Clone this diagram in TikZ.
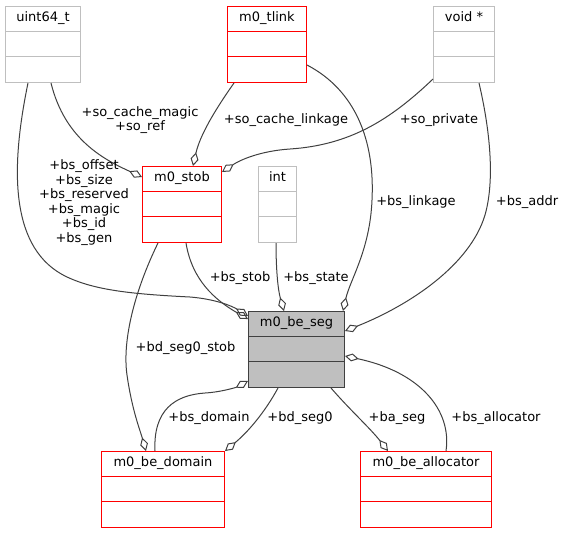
\documentclass[tikz,border=0pt]{standalone}
\usepackage{fontspec}
\setmainfont{DejaVu Sans}
\usetikzlibrary{arrows.meta,calc}
\definecolor{umlgray}{HTML}{BFBFBF}
\definecolor{umlred}{HTML}{FF0000}
\definecolor{edgegray}{HTML}{404040}

\begin{document}
\begin{tikzpicture}[x=1pt, y=-1pt,
    font=\fontsize{13}{14.6}\selectfont,
    box/.style={rectangle, anchor=north west, minimum height=76pt, inner sep=0pt, line width=1pt, fill=white},
    graybox/.style={box, draw=umlgray},
    redbox/.style={box, draw=umlred},
    segbox/.style={box, draw=edgegray, fill=umlgray},
    grayline/.style={draw=umlgray, line width=1pt},
    redline/.style={draw=umlred, line width=1pt},
    segline/.style={draw=edgegray, line width=1pt},
    classname/.style={inner sep=0pt, text height=9.5pt, text depth=3pt},
    lbl/.style={inner sep=0pt, align=center},
    assoc/.style={draw=edgegray, line width=1pt, -{Diamond[open, length=14pt, width=8pt]}}]

  \useasboundingbox (0,0) rectangle (564,533);

  % uint64_t
  \node[graybox, minimum width=75pt] (uint) at (5,6) {};
  \node[classname] (uint-t) at ($(uint.north)+(0,12.7)$) {uint64\_t};
  \draw[grayline] ($(uint.north west)+(0,25.3)$) -- ++(75,0);
  \draw[grayline] ($(uint.north west)+(0,50.7)$) -- ++(75,0);

  % m0_tlink
  \node[redbox, minimum width=79pt] (tlink) at (227,6) {};
  \node[classname] (tlink-t) at ($(tlink.north)+(0,12.7)$) {m0\_tlink};
  \draw[redline] ($(tlink.north west)+(0,25.3)$) -- ++(79,0);
  \draw[redline] ($(tlink.north west)+(0,50.7)$) -- ++(79,0);

  % void *
  \node[graybox, minimum width=61pt] (voidp) at (433,6) {};
  \node[classname] (voidp-t) at ($(voidp.north)+(0,12.7)$) {void *};
  \draw[grayline] ($(voidp.north west)+(0,25.3)$) -- ++(61,0);
  \draw[grayline] ($(voidp.north west)+(0,50.7)$) -- ++(61,0);

  % m0_stob
  \node[redbox, minimum width=79pt] (stob) at (142,166) {};
  \node[classname] (stob-t) at ($(stob.north)+(0,12.7)$) {m0\_stob};
  \draw[redline] ($(stob.north west)+(0,25.3)$) -- ++(79,0);
  \draw[redline] ($(stob.north west)+(0,50.7)$) -- ++(79,0);

  % int
  \node[graybox, minimum width=38pt] (int) at (258,166) {};
  \node[classname] (int-t) at ($(int.north)+(0,12.7)$) {int};
  \draw[grayline] ($(int.north west)+(0,25.3)$) -- ++(38,0);
  \draw[grayline] ($(int.north west)+(0,50.7)$) -- ++(38,0);

  % m0_be_seg
  \node[segbox, minimum width=96pt] (seg) at (248,311) {};
  \node[classname] (seg-t) at ($(seg.north)+(0,12.7)$) {m0\_be\_seg};
  \draw[segline] ($(seg.north west)+(0,25.3)$) -- ++(96,0);
  \draw[segline] ($(seg.north west)+(0,50.7)$) -- ++(96,0);

  % m0_be_domain
  \node[redbox, minimum width=123pt] (domain) at (101,451) {};
  \node[classname] (domain-t) at ($(domain.north)+(0,12.7)$) {m0\_be\_domain};
  \draw[redline] ($(domain.north west)+(0,25.3)$) -- ++(123,0);
  \draw[redline] ($(domain.north west)+(0,50.7)$) -- ++(123,0);

  % m0_be_allocator
  \node[redbox, minimum width=131pt] (alloc) at (360,451) {};
  \node[classname] (alloc-t) at ($(alloc.north)+(0,12.7)$) {m0\_be\_allocator};
  \draw[redline] ($(alloc.north west)+(0,25.3)$) -- ++(131,0);
  \draw[redline] ($(alloc.north west)+(0,50.7)$) -- ++(131,0);

  % links into m0_stob
  \draw[assoc] ($(uint.south west)+(46,0)$) .. controls (65,140) and (105,160) .. ($(stob.north west)+(0,11)$);
  \draw[assoc] ($(tlink.south west)+(7,0)$) .. controls (215,110) and (200,135) .. ($(stob.north west)+(51,0)$);
  \draw[assoc] ($(voidp.south west)+(0,-4)$) .. controls (390,120) and (350,145) .. (290,149)
    .. controls (260,151) and (240,160) .. ($(stob.north east)+(0,6)$);
  \node[lbl] (l-soref) at (140,120) {+so\_cache\_magic\\+so\_ref};
  \node[lbl] (l-solink) at (286,120) {+so\_cache\_linkage};
  \node[lbl] (l-sopriv) at (439,120) {+so\_private};

  % links into m0_be_seg
  \draw[assoc] ($(uint.south west)+(23,0)$) .. controls (10,170) and (10,250) .. (67,277)
    .. controls (95,290) and (130,294) .. (190,297)
    .. controls (215,299) and (232,306) .. ($(seg.north west)+(0,5)$);
  \draw[assoc] ($(stob.south west)+(44,0)$) .. controls (192,280) and (215,300) .. ($(seg.north west)+(0,8)$);
  \draw[assoc] ($(int.south west)+(18,0)$) .. controls (276,270) and (278,290) .. ($(seg.north west)+(36,0)$);
  \draw[assoc] ($(tlink.south east)+(0,-18)$) .. controls (355,90) and (375,140) .. (372,200)
    .. controls (370,250) and (350,280) .. ($(seg.north east)+(-2,0)$);
  \draw[assoc] ($(voidp.south west)+(46,0)$) .. controls (490,130) and (495,180) .. (485,215)
    .. controls (470,265) and (410,305) .. ($(seg.north east)+(0,20)$);
  \draw[assoc] ($(domain.north west)+(54,0)$) .. controls (153,410) and (175,395) .. (205,393)
    .. controls (222,392) and (237,387) .. ($(seg.south west)+(0,-7)$);
  \draw[assoc] ($(alloc.north west)+(86,0)$) .. controls (452,410) and (420,372) .. ($(seg.north east)+(0,45)$);
  \node[lbl] (l-bsu64) at (84,202.5) {+bs\_offset\\+bs\_size\\+bs\_reserved\\+bs\_magic\\+bs\_id\\+bs\_gen};
  \node[lbl] (l-bsstob) at (240,278) {+bs\_stob};
  \node[lbl] (l-bsstate) at (316,278) {+bs\_state};
  \node[lbl] (l-bslink) at (416,202) {+bs\_linkage};
  \node[lbl] (l-bsaddr) at (527,202) {+bs\_addr};
  \node[lbl] (l-bsdom) at (209,418) {+bs\_domain};
  \node[lbl] (l-bsalloc) at (496,418) {+bs\_allocator};

  % links out of m0_be_seg and m0_stob into the lower classes
  \draw[assoc] ($(stob.south west)+(16,0)$) .. controls (135,290) and (122,340) .. (127,375)
    .. controls (132,410) and (140,430) .. ($(domain.north west)+(45,0)$);
  \draw[assoc] ($(seg.south west)+(30,0)$) .. controls (265,412) and (248,432) .. (domain.north east);
  \draw[assoc] ($(seg.south west)+(83,0)$) .. controls (350,410) and (370,428) .. ($(alloc.north west)+(28,0)$);
  \node[lbl] (l-bdstob) at (185.5,348) {+bd\_seg0\_stob};
  \node[lbl] (l-bdseg) at (300,418) {+bd\_seg0};
  \node[lbl] (l-baseg) at (397,418) {+ba\_seg};
\end{tikzpicture}
\end{document}
